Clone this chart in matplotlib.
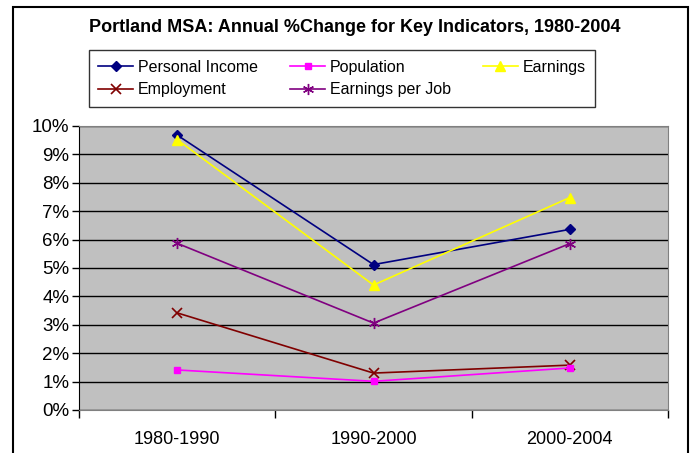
import matplotlib

matplotlib.use("Agg")
import matplotlib.pyplot as plt
from matplotlib.patches import Rectangle
from matplotlib.ticker import FuncFormatter, MultipleLocator

plt.rcParams["font.family"] = ["Liberation Sans", "DejaVu Sans"]

periods = ["1980-1990", "1990-2000", "2000-2004"]
personal_income = [9.68, 5.12, 6.36]
population = [1.41, 1.01, 1.48]
earnings = [9.52, 4.40, 7.48]
employment = [3.42, 1.30, 1.58]
earnings_per_job = [5.87, 3.06, 5.86]

fig = plt.figure(figsize=(6.92, 4.53), dpi=100)
ax = fig.add_axes([79 / 692, 43 / 453, 589 / 692, 284 / 453])
ax.set_facecolor("#C0C0C0")

x = range(len(periods))
lines = {}
lines["Personal Income"] = ax.plot(x, personal_income, color="#000080", marker="D",
                                   markersize=5, lw=1.2)[0]
lines["Employment"] = ax.plot(x, employment, color="#800000", marker="x",
                              markersize=7, mew=1.2, lw=1.2)[0]
lines["Population"] = ax.plot(x, population, color="#FF00FF", marker="s",
                              markersize=5, lw=1.2)[0]
lines["Earnings per Job"] = ax.plot(x, earnings_per_job, color="#800080",
                                    marker=(6, 2, 0), markersize=8, mew=1.0, lw=1.2)[0]
lines["Earnings"] = ax.plot(x, earnings, color="#FFFF00", marker="^",
                            markersize=7, lw=1.2)[0]

ax.set_xlim(-0.5, 2.5)
ax.set_ylim(0, 10)
ax.yaxis.set_major_locator(MultipleLocator(1))
ax.yaxis.set_major_formatter(FuncFormatter(lambda v, _: f"{v:.0f}%"))
ax.grid(axis="y", color="black", lw=1)
ax.set_axisbelow(True)

ax.set_xticks(list(x))
ax.set_xticklabels(periods)
ax.set_xticks([-0.5, 0.5, 1.5, 2.5], minor=True)
ax.tick_params(axis="x", which="major", length=0, pad=15, labelsize=13)
ax.tick_params(axis="x", which="minor", length=6, width=1, direction="out")
ax.tick_params(axis="y", length=5, width=1, direction="out", labelsize=13.5, pad=2)

for side in ["top", "right"]:
    ax.spines[side].set_color("#808080")
ax.spines["left"].set_color("black")
ax.spines["bottom"].set_color("#808080")

fig.text(355 / 692, 1 - 28 / 453, "Portland MSA: Annual %Change for Key Indicators, 1980-2004",
         ha="center", va="center", fontsize=13, fontweight="bold")

leg = fig.legend(list(lines.values()), list(lines.keys()), ncol=3,
                 loc="center", bbox_to_anchor=(342 / 692, 1 - 78.5 / 453),
                 fontsize=11.5, frameon=True, fancybox=False, edgecolor="black",
                 handlelength=2.2, handletextpad=0.3, columnspacing=2.0,
                 labelspacing=0.5, borderpad=0.6)
leg.get_frame().set_linewidth(1)

fig.patches.append(Rectangle((13 / 692, -0.05), 675 / 692, 1.05 - 7 / 453,
                             transform=fig.transFigure, fill=False,
                             edgecolor="black", lw=1.5))

fig.savefig("out.png", dpi=100)
